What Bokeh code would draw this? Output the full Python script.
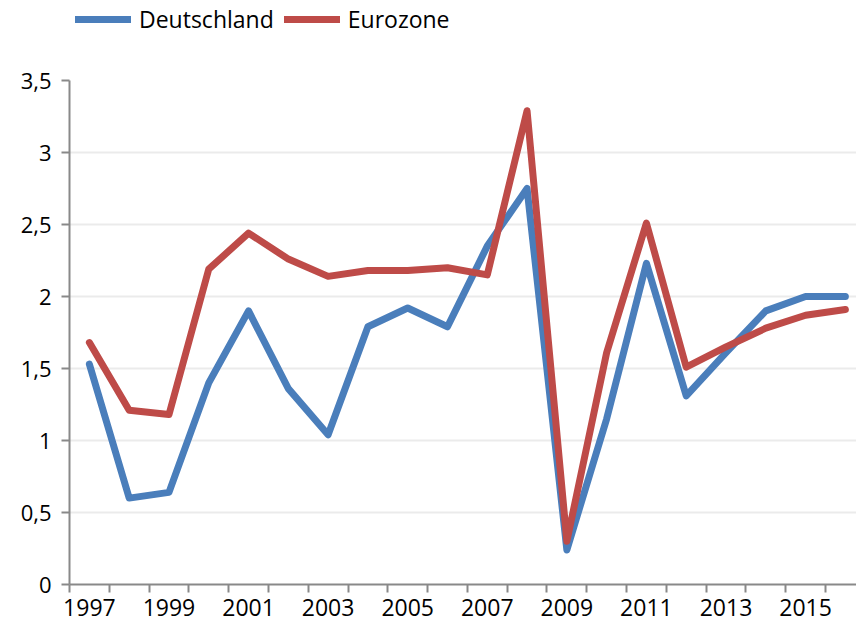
from bokeh.plotting import figure
from bokeh.layouts import column
from bokeh.models import FixedTicker, Legend, LegendItem, Range1d
from bokeh.embed import file_html
from bokeh.resources import INLINE

years = list(range(1997, 2017))
deutschland = [1.53, 0.60, 0.64, 1.40, 1.90, 1.36, 1.04, 1.79, 1.92, 1.79,
               2.35, 2.75, 0.24, 1.15, 2.23, 1.31, 1.61, 1.90, 2.00, 2.00]
eurozone = [1.68, 1.21, 1.18, 2.19, 2.44, 2.26, 2.14, 2.18, 2.18, 2.20,
            2.15, 3.29, 0.30, 1.61, 2.51, 1.51, 1.65, 1.78, 1.87, 1.91]
y_ticks = [0, 0.5, 1, 1.5, 2, 2.5, 3, 3.5]
y_tick_labels = ["0", "0,5", "1", "1,5", "2", "2,5", "3", "3,5"]
x_label_years = list(range(1997, 2016, 2))
series_names = ["Deutschland", "Eurozone"]

FONT = "Open Sans"
BLUE = "#4A7EBB"
RED = "#BE4B48"
AXIS = "#898989"

# ---- main chart ----
p = figure(width=856, height=587, output_backend="svg", toolbar_location=None,
           x_range=Range1d(1996.5, 2016.28), y_range=Range1d(0, 3.5),
           min_border_left=69, min_border_top=40, min_border_right=0,
           min_border_bottom=43)
p.outline_line_color = None
p.background_fill_color = "white"

r1 = p.line(years, deutschland, line_color=BLUE, line_width=7,
            line_join="round", line_cap="round")
r2 = p.line(years, eurozone, line_color=RED, line_width=7,
            line_join="round", line_cap="round")

p.xaxis.ticker = FixedTicker(ticks=x_label_years,
                             minor_ticks=[y - 0.5 for y in years])
p.xaxis.major_tick_out = 0
p.xaxis.major_tick_in = 0
p.xaxis.minor_tick_out = 8
p.xaxis.minor_tick_in = 0
p.xaxis.minor_tick_line_color = AXIS
p.xaxis.minor_tick_line_width = 2
p.xaxis.axis_line_color = AXIS
p.xaxis.axis_line_width = 2
p.xaxis.major_label_text_font = FONT
p.xaxis.major_label_text_font_size = "23px"
p.xaxis.major_label_text_color = "black"
p.xaxis.major_label_standoff = 6

p.yaxis.ticker = FixedTicker(ticks=y_ticks)
p.yaxis.major_label_overrides = {t: l for t, l in zip(y_ticks, y_tick_labels)}
p.yaxis.major_tick_out = 8
p.yaxis.major_tick_in = 0
p.yaxis.major_tick_line_color = AXIS
p.yaxis.major_tick_line_width = 2
p.yaxis.minor_tick_line_color = None
p.yaxis.axis_line_color = AXIS
p.yaxis.axis_line_width = 2
p.yaxis.major_label_text_font = FONT
p.yaxis.major_label_text_font_size = "22px"
p.yaxis.major_label_text_color = "black"
p.yaxis.major_label_standoff = 10

p.xgrid.grid_line_color = None
p.ygrid.ticker = FixedTicker(ticks=y_ticks)
p.ygrid.grid_line_color = "#EBEBEB"
p.ygrid.grid_line_width = 2

# ---- legend strip (series drawn out of view; only the legend shows) ----
lg = figure(width=856, height=40, output_backend="svg", toolbar_location=None,
            x_range=Range1d(0, 1), y_range=Range1d(0, 1),
            x_axis_type=None, y_axis_type=None, min_border=0)
lg.outline_line_color = None
lg.xgrid.grid_line_color = None
lg.ygrid.grid_line_color = None
l1 = lg.line(years, deutschland, line_color=BLUE, line_width=7, line_cap="round")
l2 = lg.line(years, eurozone, line_color=RED, line_width=7, line_cap="round")

legend = Legend(items=[LegendItem(label=series_names[0], renderers=[l1]),
                       LegendItem(label=series_names[1], renderers=[l2])],
                orientation="horizontal", location=(6, 5),
                glyph_width=56, glyph_height=20, label_standoff=8, spacing=10,
                padding=0, margin=0, border_line_color=None,
                background_fill_alpha=0, label_text_font=FONT,
                label_text_font_size="23px", label_text_color="black")
lg.add_layout(legend, "center")

layout = column(lg, p, spacing=0)
open("out.html", "w").write(file_html(layout, INLINE))
